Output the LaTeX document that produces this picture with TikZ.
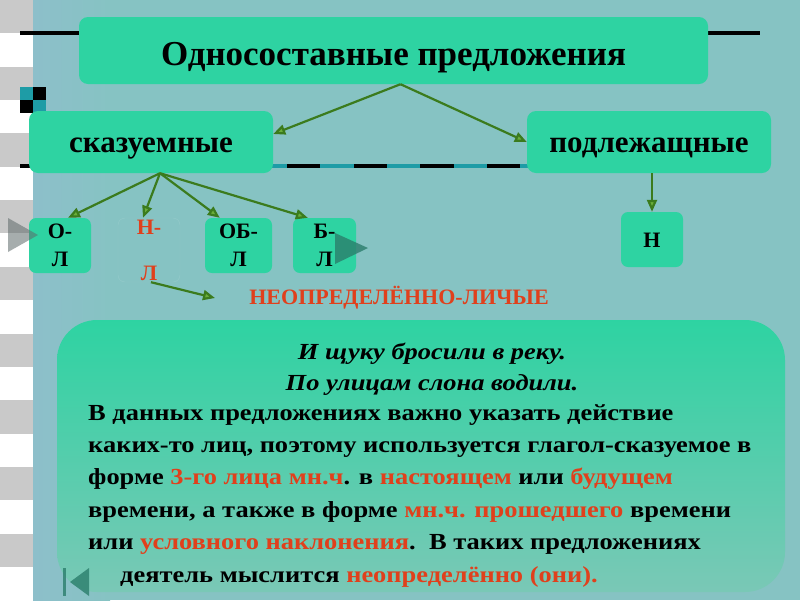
\documentclass[tikz,border=0pt]{standalone}
\usepackage{fontspec}
\setmainfont{Liberation Serif}
\newfontfamily\widefont{Liberation Serif}[FakeStretch=1.15]
\usetikzlibrary{positioning, arrows.meta}
\definecolor{slideteal}{HTML}{86C3C3}
\definecolor{slideleft}{HTML}{8DBFCA}
\definecolor{mintgreen}{HTML}{2ED3A2}
\definecolor{mintpale}{HTML}{7AC8B6}
\definecolor{arrowgreen}{HTML}{3B7B1D}
\definecolor{tipgreen}{HTML}{6AAE3A}
\definecolor{wordred}{HTML}{E0401C}
\definecolor{stripegrey}{HTML}{C9C9C9}
\definecolor{dashteal}{HTML}{1E9CA6}
\definecolor{navgrey}{HTML}{5E6A6A}
\definecolor{navteal}{HTML}{2B7E6C}
\newcommand{\redword}[1]{\textcolor{wordred}{#1}}
\tikzset{
  mintbox/.style={fill=mintgreen, rounded corners=9pt, inner sep=0pt, font=\bfseries},
  letterbox/.style={mintbox, rounded corners=7pt, minimum width=62pt, minimum height=55pt,
                    align=center, font=\bfseries\fontsize{22}{28}\selectfont},
  branch/.style={draw=arrowgreen, line width=2.2pt, -{Triangle[length=12pt,width=10pt,fill=tipgreen]}},
}

\begin{document}
\begin{tikzpicture}[x=1pt, y=-1pt]
  \useasboundingbox (0,0) rectangle (800,600);
  % slide background
  \fill[white] (0,0) rectangle (33,600);
  \foreach \k in {0,...,8}
    \fill[stripegrey] (0,{\k*66.7}) rectangle (33,{\k*66.7+33.3});
  \fill[slideteal] (33,0) rectangle (800,600);
  \shade[left color=slideleft, right color=slideteal] (33,0) rectangle (110,600);
  \draw[line width=4pt] (20,33) -- (760,33);
  \foreach \k in {0,...,7}
    \draw[line width=4pt] ({20+\k*66.7},166) -- ({53.3+\k*66.7},166);
  \foreach \k in {0,...,7}
    \draw[line width=4pt, dashteal] ({53.3+\k*66.7},166) -- ({86.7+\k*66.7},166);
  \fill (33,87) rectangle (46,100);
  \fill (20,100) rectangle (33,113);
  \fill[dashteal] (20,87) rectangle (33,100);
  \fill[dashteal] (33,100) rectangle (46,113);

  % boxes
  \node[mintbox, minimum width=629pt, minimum height=67pt, text height=29pt, text depth=0pt,
        font=\bfseries\fontsize{35}{38}\selectfont]
    (title) at (393.5,50.5) {Односоставные предложения};
  \node[mintbox, minimum width=244pt, minimum height=62pt, text height=20pt, text depth=0pt,
        font=\bfseries\fontsize{31}{34}\selectfont]
    (skaz) at (151,142) {сказуемные};
  \node[mintbox, minimum width=244pt, minimum height=62pt, text height=20pt, text depth=0pt,
        font=\bfseries\fontsize{31}{34}\selectfont]
    (podl) at (649,142) {подлежащные};
  \node[letterbox] (ol) at (60,245.5) {О-\\Л};
  \node[letterbox, fill=none, draw=white, draw opacity=0.12, minimum height=64pt,
        text=wordred, font=\bfseries\fontsize{22}{46}\selectfont] (nl) at (149,250) {Н-\\Л};
  \node[letterbox, minimum width=67pt] (obl) at (238.5,245.5) {ОБ-\\Л};
  \node[letterbox, minimum width=63pt] (bl) at (324.5,245.5) {Б-\\Л};
  \node[letterbox, text height=16pt, text depth=0pt] (n) at (652,239.5) {Н};
  \node[text=wordred, font=\bfseries\fontsize{22}{24}\selectfont, inner sep=0pt]
    (nlabel) at (399,298) {НЕОПРЕДЕЛЁННО-ЛИЧЫЕ};
  \coordinate (nlend) at (215,298);

  % arrows
  \draw[branch] ([xshift=7pt]title.south) -- ([yshift=8pt]skaz.east);
  \draw[branch] ([xshift=7pt]title.south) -- (podl.west);
  \draw[branch] ([xshift=9pt]skaz.south) -- ([xshift=8pt]ol.north);
  \draw[branch] ([xshift=9pt]skaz.south) -- ([xshift=-6pt]nl.north);
  \draw[branch] ([xshift=9pt]skaz.south) -- ([xshift=15pt]obl.north west);
  \draw[branch] ([xshift=9pt]skaz.south) -- ([xshift=15pt]bl.north west);
  \draw[branch] (n.north |- podl.south) -- (n.north);
  \draw[branch] ([xshift=2pt]nl.south) -- (nlend);

  % example box
  \node[rounded corners=40pt, top color=mintgreen, bottom color=mintpale,
        minimum width=728pt, minimum height=272pt] (examples) at (421,456) {};
  \node[font=\widefont\bfseries\itshape\fontsize{23}{31}\selectfont, align=center, inner sep=0pt]
    (sample) at (432,369) {И щуку бросили в реку.\\По улицам слона водили.};
  \node[font=\widefont\bfseries\fontsize{23}{32.4}\selectfont, align=left, inner sep=0pt, anchor=north west]
    (rule) at (88,404) {В данных предложениях важно указать действие\\
    каких-то лиц, поэтому используется глагол-сказуемое в\\
    форме \redword{3-го лица мн.ч}. в \redword{настоящем} или \redword{будущем}\\
    времени, а также в форме \redword{мн.ч. прошедшего} времени\\
    или \redword{условного наклонения}.\ \ В таких предложениях\\
    \hspace*{32pt}деятель мыслится \redword{неопределённо (они).}};

  % navigation marks
  \fill[navgrey, opacity=0.55] (8,218) -- (38,235) -- (8,252) -- cycle;
  \fill[navteal, opacity=0.8] (335,233) -- (368,248) -- (335,264) -- cycle;
  \fill[navteal, opacity=0.8] (63,568) rectangle (66,596);
  \fill[navteal, opacity=0.8] (70,582) -- (89,568) -- (89,596) -- cycle;
\end{tikzpicture}
\end{document}
